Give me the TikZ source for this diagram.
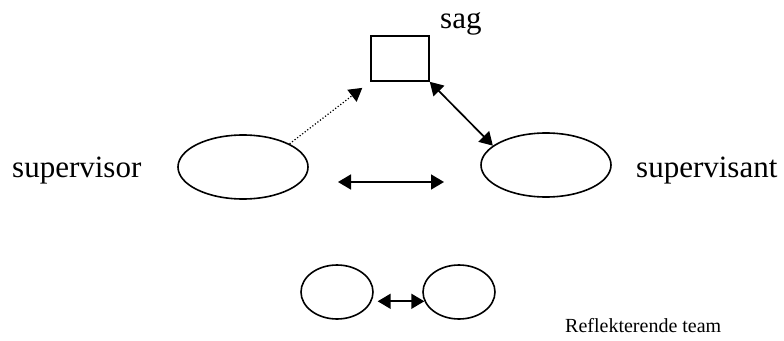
\documentclass[tikz,border=0pt]{standalone}
\usepackage{fontspec}
\setmainfont{Liberation Serif}
\usetikzlibrary{
    positioning,
    shapes.geometric,
    arrows.meta
    }

\tikzset{person/.style =
        {
            shape=ellipse,
            line width=1.6pt,
            minimum width=130pt,
            minimum height=64pt,
            inner sep=0pt,
            draw
        }
}

\tikzset{member/.style =
        {
            person,
            minimum width=72pt,
            minimum height=54pt
        }
}

\tikzset{casebox/.style =
        {
            rectangle,
            line width=1.6pt,
            minimum width=58pt,
            minimum height=45pt,
            inner sep=0pt,
            draw
        }
}

\tikzset{label/.style =
        {
            inner sep=0pt,
            anchor=base west,
            font=\fontsize{31}{37}\selectfont
        }
}

\tikzset{link/.style = {
            line width=1.7pt,
            {Triangle[length=13pt,width=15pt]}-{Triangle[length=13pt,width=15pt]}
        }
}

\tikzset{hint/.style = {
            line width=1.2pt,
            dotted,
            -{Triangle[length=13pt,width=15pt]}
        }
}

\begin{document}
\begin{tikzpicture}[x=1pt, y=-1pt]
		\useasboundingbox (0,0) rectangle (784,340);

		\node[casebox] at (400,58.5) (sag) {};
		\node[person] at (243,167) (sup) {};
		\node[person] at (546,165) (sant) {};
		\node[member] at (337,292) (t1) {};
		\node[member] at (459,292) (t2) {};

		\node[label] at (440,28) (sag-lbl) {sag};
		\node[label] at (12,177) (sup-lbl) {supervisor};
		\node[label] at (636,177) (sant-lbl) {supervisant};
		\node[label, font=\fontsize{20}{24}\selectfont] at (565,332) (team-lbl) {Reflekterende team};

		\coordinate (mid-l) at (338,182);
		\coordinate (mid-r) at (444,182);

		\draw [hint, shorten >=10pt] (sup.north east) -- (sag.south west);
		\draw [link] (sag.south east) -- (sant.160);
		\draw [link] (mid-l) -- (mid-r);
		\draw [link, shorten <=6pt] (t1.-15) -- (t2.195);

	\end{tikzpicture}
\end{document}
